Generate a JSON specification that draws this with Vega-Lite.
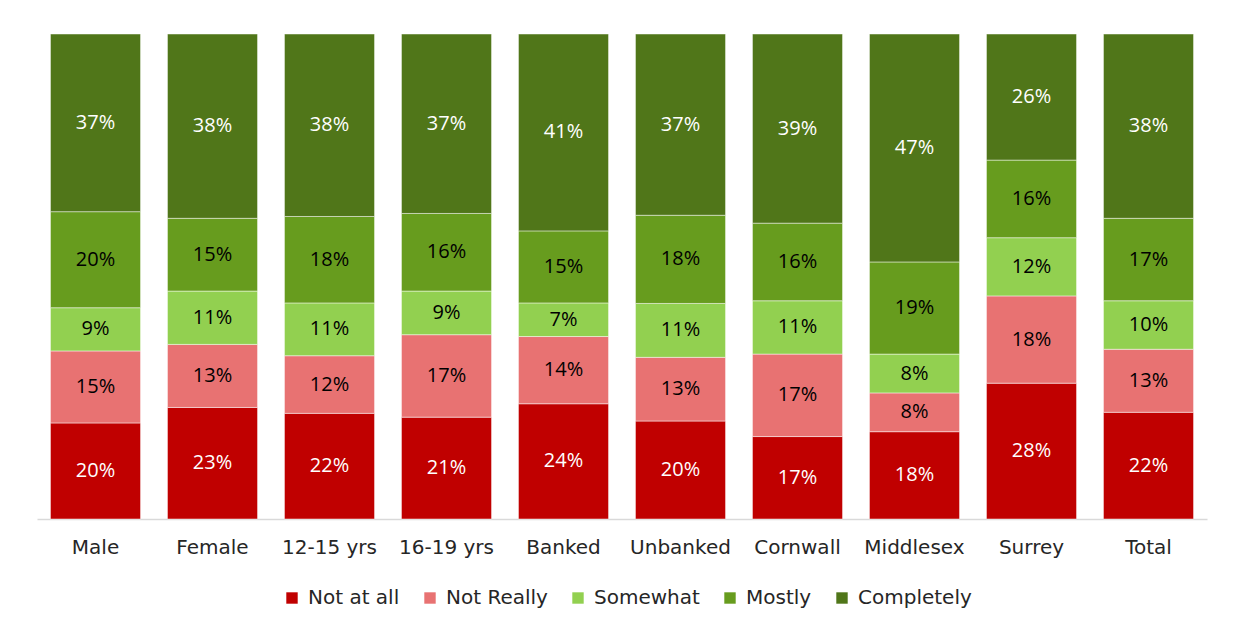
{
  "$schema": "https://vega.github.io/schema/vega-lite/v6.json",
  "width": 1170,
  "height": 485,
  "autosize": {"type": "none"},
  "padding": {"left": 37, "top": 34, "right": 26, "bottom": 109},
  "background": "#ffffff",
  "data": {"values": [
    {"group": "Male", "cat": "Not at all", "value": 20},
    {"group": "Male", "cat": "Not Really", "value": 15},
    {"group": "Male", "cat": "Somewhat", "value": 9},
    {"group": "Male", "cat": "Mostly", "value": 20},
    {"group": "Male", "cat": "Completely", "value": 37},
    {"group": "Female", "cat": "Not at all", "value": 23},
    {"group": "Female", "cat": "Not Really", "value": 13},
    {"group": "Female", "cat": "Somewhat", "value": 11},
    {"group": "Female", "cat": "Mostly", "value": 15},
    {"group": "Female", "cat": "Completely", "value": 38},
    {"group": "12-15 yrs", "cat": "Not at all", "value": 22},
    {"group": "12-15 yrs", "cat": "Not Really", "value": 12},
    {"group": "12-15 yrs", "cat": "Somewhat", "value": 11},
    {"group": "12-15 yrs", "cat": "Mostly", "value": 18},
    {"group": "12-15 yrs", "cat": "Completely", "value": 38},
    {"group": "16-19 yrs", "cat": "Not at all", "value": 21},
    {"group": "16-19 yrs", "cat": "Not Really", "value": 17},
    {"group": "16-19 yrs", "cat": "Somewhat", "value": 9},
    {"group": "16-19 yrs", "cat": "Mostly", "value": 16},
    {"group": "16-19 yrs", "cat": "Completely", "value": 37},
    {"group": "Banked", "cat": "Not at all", "value": 24},
    {"group": "Banked", "cat": "Not Really", "value": 14},
    {"group": "Banked", "cat": "Somewhat", "value": 7},
    {"group": "Banked", "cat": "Mostly", "value": 15},
    {"group": "Banked", "cat": "Completely", "value": 41},
    {"group": "Unbanked", "cat": "Not at all", "value": 20},
    {"group": "Unbanked", "cat": "Not Really", "value": 13},
    {"group": "Unbanked", "cat": "Somewhat", "value": 11},
    {"group": "Unbanked", "cat": "Mostly", "value": 18},
    {"group": "Unbanked", "cat": "Completely", "value": 37},
    {"group": "Cornwall", "cat": "Not at all", "value": 17},
    {"group": "Cornwall", "cat": "Not Really", "value": 17},
    {"group": "Cornwall", "cat": "Somewhat", "value": 11},
    {"group": "Cornwall", "cat": "Mostly", "value": 16},
    {"group": "Cornwall", "cat": "Completely", "value": 39},
    {"group": "Middlesex", "cat": "Not at all", "value": 18},
    {"group": "Middlesex", "cat": "Not Really", "value": 8},
    {"group": "Middlesex", "cat": "Somewhat", "value": 8},
    {"group": "Middlesex", "cat": "Mostly", "value": 19},
    {"group": "Middlesex", "cat": "Completely", "value": 47},
    {"group": "Surrey", "cat": "Not at all", "value": 28},
    {"group": "Surrey", "cat": "Not Really", "value": 18},
    {"group": "Surrey", "cat": "Somewhat", "value": 12},
    {"group": "Surrey", "cat": "Mostly", "value": 16},
    {"group": "Surrey", "cat": "Completely", "value": 26},
    {"group": "Total", "cat": "Not at all", "value": 22},
    {"group": "Total", "cat": "Not Really", "value": 13},
    {"group": "Total", "cat": "Somewhat", "value": 10},
    {"group": "Total", "cat": "Mostly", "value": 17},
    {"group": "Total", "cat": "Completely", "value": 38}
  ]},
  "transform": [
    {"calculate": "indexof(['Not at all','Not Really','Somewhat','Mostly','Completely'], datum.cat)", "as": "ord"},
    {"stack": "value", "groupby": ["group"], "sort": [{"field": "ord", "order": "ascending"}], "offset": "normalize", "as": ["y0", "y1"]},
    {"calculate": "(datum.y0 + datum.y1) / 2", "as": "ymid"},
    {"calculate": "datum.value + '%'", "as": "label"}
  ],
  "encoding": {
    "x": {
      "field": "group", "type": "nominal", "sort": null, "title": null,
      "scale": {"paddingInner": 0.23, "paddingOuter": 0.115},
      "axis": {
        "labelAngle": 0, "labelFont": "DejaVu Sans", "labelFontSize": 20, "labelColor": "#262626",
        "labelPadding": 18, "ticks": false, "domainColor": "#D9D9D9", "domainWidth": 1.5
      }
    }
  },
  "layer": [
    {
      "mark": {"type": "bar", "stroke": "#ffffff", "strokeWidth": 0.8, "strokeOpacity": 0.6},
      "encoding": {
        "y": {"field": "y0", "type": "quantitative", "scale": {"domain": [0, 1]}, "axis": null},
        "y2": {"field": "y1"},
        "color": {
          "field": "cat", "type": "nominal",
          "scale": {
            "domain": ["Not at all", "Not Really", "Somewhat", "Mostly", "Completely"],
            "range": ["#C00000", "#E87272", "#92D050", "#679C1E", "#507619"]
          },
          "legend": {
            "title": null, "orient": "none", "direction": "horizontal",
            "legendX": 245, "legendY": 554,
            "symbolType": "square", "symbolSize": 130, "symbolStrokeWidth": 0,
            "labelFont": "DejaVu Sans", "labelFontSize": 20, "labelColor": "#262626",
            "labelOffset": 6, "columnPadding": 20
          }
        }
      }
    },
    {
      "mark": {"type": "text", "font": "Open Sans", "fontSize": 20, "baseline": "middle"},
      "encoding": {
        "y": {"field": "ymid", "type": "quantitative", "scale": {"domain": [0, 1]}, "axis": null},
        "text": {"field": "label"},
        "color": {
          "condition": {"test": "datum.cat === 'Not at all' || datum.cat === 'Completely'", "value": "#ffffff"},
          "value": "#000000"
        }
      }
    }
  ],
  "config": {"view": {"stroke": null}}
}
